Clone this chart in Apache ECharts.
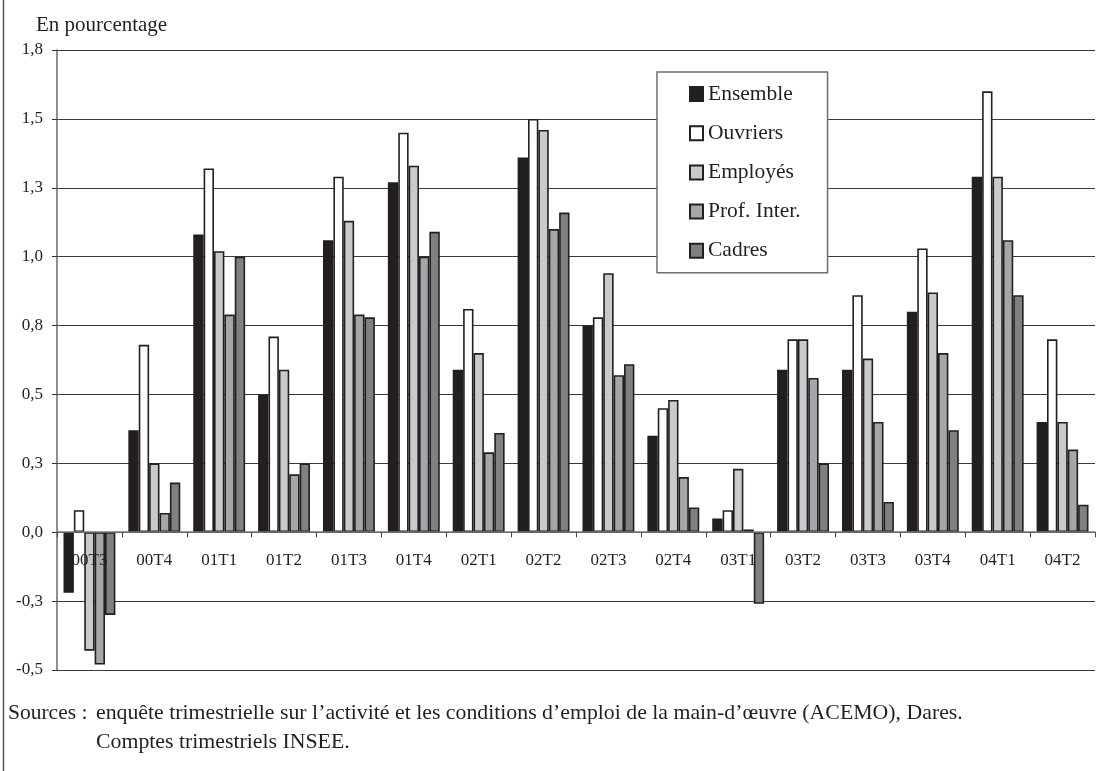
<!DOCTYPE html>
<html lang="fr">
<head>
<meta charset="utf-8">
<title>Salaire mensuel de base par catégorie</title>
<script src="https://cdn.jsdelivr.net/npm/echarts@6/dist/echarts.min.js"></script>
<style>
  html, body { margin: 0; padding: 0; background: #fff; }
  #chart { width: 1101px; height: 771px; }
</style>
</head>
<body>
<div id="chart"></div>
<script>
// trimestres
const categories = ["00T3", "00T4", "01T1", "01T2", "01T3", "01T4", "02T1", "02T2",
  "02T3", "02T4", "03T1", "03T2", "03T3", "03T4", "04T1", "04T2"];

// évolutions trimestrielles, en %
const ensemble = [-0.22, 0.37, 1.08, 0.50, 1.06, 1.27, 0.59, 1.36, 0.75, 0.35, 0.05, 0.59, 0.59, 0.80, 1.29, 0.40];
const ouvriers = [0.08, 0.68, 1.32, 0.71, 1.29, 1.45, 0.81, 1.50, 0.78, 0.45, 0.08, 0.70, 0.86, 1.03, 1.60, 0.70];
const employes = [-0.43, 0.25, 1.02, 0.59, 1.13, 1.33, 0.65, 1.46, 0.94, 0.48, 0.23, 0.70, 0.63, 0.87, 1.29, 0.40];
const profInter = [-0.48, 0.07, 0.79, 0.21, 0.79, 1.00, 0.29, 1.10, 0.57, 0.20, 0.01, 0.56, 0.40, 0.65, 1.06, 0.30];
const cadres = [-0.30, 0.18, 1.00, 0.25, 0.78, 1.09, 0.36, 1.16, 0.61, 0.09, -0.26, 0.25, 0.11, 0.37, 0.86, 0.10];

// graduations de l'axe (pas de 0,25, libellés arrondis comme dans l'original)
const yMin = -0.5;
const yMax = 1.75;
const yStep = 0.25;
const yTickLabels = ["-0,5", "-0,3", "0,0", "0,3", "0,5", "0,8", "1,0", "1,3", "1,5", "1,8"];

const FONT = "'Liberation Serif', 'Times New Roman', serif";
const INK = "#231f20";

const seriesDefs = [
  { name: "Ensemble", data: ensemble, color: "#231f20" },
  { name: "Ouvriers", data: ouvriers, color: "#ffffff" },
  { name: "Employés", data: employes, color: "#c9cacd" },
  { name: "Prof. Inter.", data: profInter, color: "#a5a6a9" },
  { name: "Cadres", data: cadres, color: "#808080" },
];

const chart = echarts.init(document.getElementById("chart"), null, { renderer: "canvas" });

chart.setOption({
  animation: false,
  backgroundColor: "#ffffff",
  textStyle: { fontFamily: FONT, color: INK },
  title: {
    text: "En pourcentage",
    left: 31,
    top: 10,
    textStyle: { fontFamily: FONT, fontSize: 21, fontWeight: "normal", color: INK },
  },
  legend: {
    orient: "vertical",
    left: 657,
    top: 72,
    data: seriesDefs.map((s) => s.name),
    icon: "rect",
    itemWidth: 13,
    itemHeight: 14,
    itemGap: 17.2,
    padding: [11, 27, 11, 32],
    backgroundColor: "#ffffff",
    borderColor: "#6f6f6f",
    borderWidth: 1.5,
    borderRadius: 0,
    textStyle: { fontFamily: FONT, fontSize: 21.5, color: INK, lineHeight: 21.5 },
  },
  grid: { left: 57, right: 6, top: 50, bottom: 101, containLabel: false },
  xAxis: {
    type: "category",
    data: categories,
    z: 3,
    axisLine: { onZero: true, lineStyle: { color: "#7a7a7a", width: 1.5 } },
    axisTick: { show: true, inside: false, length: 5, lineStyle: { color: "#444", width: 1 } },
    // les libellés restent sous la ligne du zéro, comme dans l'original
    axisLabel: { fontFamily: FONT, fontSize: 17, color: INK, margin: -118 },
    splitLine: { show: false },
  },
  yAxis: {
    type: "value",
    min: yMin,
    max: yMax,
    interval: yStep,
    axisLine: { show: true, lineStyle: { color: "#6a6a6a", width: 1.5 } },
    axisTick: { show: true, length: 5, lineStyle: { color: "#333" } },
    axisLabel: {
      fontFamily: FONT,
      fontSize: 17,
      color: INK,
      margin: 14,
      formatter: (v) => yTickLabels[Math.round((v - yMin) / yStep)],
    },
    splitLine: { show: true, lineStyle: { color: "#3a3a3a", width: 1.2 } },
  },
  series: seriesDefs.map((s) => ({
    name: s.name,
    type: "bar",
    data: s.data,
    barGap: "0%",
    barCategoryGap: "20%",
    itemStyle: { color: s.color, borderColor: INK, borderWidth: 1.6 },
  })),
  graphic: [
    {
      type: "line",
      shape: { x1: 3.5, y1: 0, x2: 3.5, y2: 771 },
      style: { stroke: "#555", lineWidth: 1.5 },
    },
    {
      type: "text",
      left: 8,
      top: 702,
      style: { text: "Sources :", font: "21.5px " + FONT, fill: INK },
    },
    {
      type: "text",
      left: 96,
      top: 702,
      style: {
        text: "enquête trimestrielle sur l’activité et les conditions d’emploi de la main-d’œuvre (ACEMO), Dares.",
        font: "21.8px " + FONT,
        fill: INK,
      },
    },
    {
      type: "text",
      left: 96,
      top: 731,
      style: { text: "Comptes trimestriels INSEE.", font: "21.8px " + FONT, fill: INK },
    },
  ],
});

window.addEventListener("resize", () => chart.resize());
</script>
</body>
</html>
